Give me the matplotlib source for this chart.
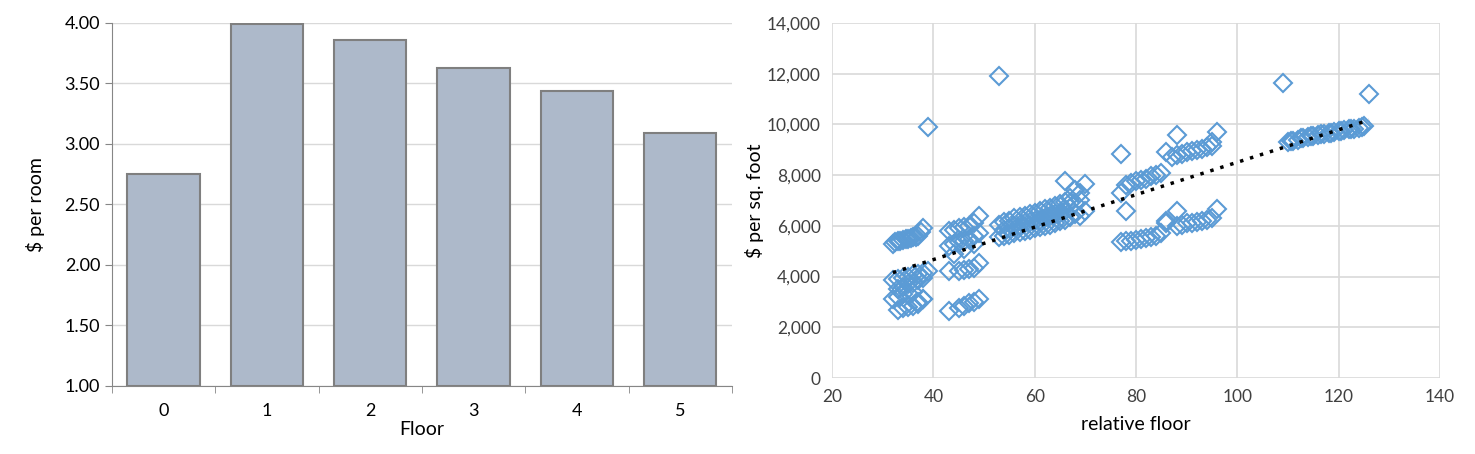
import numpy as np
import matplotlib.pyplot as plt
from matplotlib.ticker import FuncFormatter

plt.rcParams['font.family'] = ['Lato', 'DejaVu Sans']

# left chart: price per room by floor
floors = ['0', '1', '2', '3', '4', '5']
per_room = [2.75, 3.99, 3.86, 3.63, 3.44, 3.09]

# right chart: price per sq. foot vs relative floor
rel_floor = [
    32, 32.5, 33, 33.5, 34, 34.5, 35, 35.5, 36, 36.5, 37, 37.5, 38,
    32, 33, 34, 35, 36, 37, 38, 39,
    33, 34, 35, 36, 37, 38,
    32, 33, 34, 35, 36, 37, 38,
    33, 34, 35, 36, 37, 38,
    39, 53,
    43, 44, 45, 46, 47, 48, 49,
    43, 44, 45, 46, 47, 48, 49,
    44, 46, 48,
    43, 45, 46, 47, 48, 49,
    43, 45, 46, 47, 48, 49,
    53, 54, 55, 56, 57, 58, 59, 60, 61, 62, 63, 64, 65, 66, 67, 68, 69, 70,
    53, 54, 55, 56, 57, 58, 59, 60, 61, 62, 63, 64, 65, 66, 67, 68, 69, 70,
    54, 55, 56, 57, 58, 59, 60, 61, 62, 63, 64, 65, 66, 67, 68, 69,
    66, 67,
    77, 78, 79, 80, 81, 82, 83, 84, 85,
    77, 78, 79, 80, 81, 82, 83, 84, 85, 86,
    77, 78, 86, 87, 88, 88, 86,
    88, 89, 90, 91, 92, 93, 94, 95, 96, 95,
    88, 89, 90, 91, 92, 93, 94, 95, 96,
    110, 111, 112, 113, 114, 115, 116, 117, 118, 119, 120, 121, 122, 123, 124, 125,
    110.5, 112.5, 114.5, 116.5, 118.5, 120.5, 122.5, 124.5,
    109, 126,
]
per_sqft = [
    5300, 5350, 5400, 5420, 5450, 5470, 5500, 5520, 5550, 5570, 5600, 5750, 5900,
    3850, 3900, 3950, 4000, 4050, 4100, 4150, 4200,
    3500, 3600, 3700, 3750, 3850, 3950,
    3100, 3200, 3300, 3350, 3400, 3000, 3100,
    2700, 2750, 2800, 2850, 2900, 3100,
    9900, 11900,
    5800, 5850, 5900, 5950, 6000, 6100, 6400,
    5200, 5300, 5350, 5400, 5500, 5600, 5700,
    4900, 5100, 5300,
    4200, 4200, 4250, 4300, 4350, 4550,
    2650, 2750, 2850, 2950, 3000, 3100,
    6050, 6150, 6200, 6300, 6350, 6400, 6450, 6500, 6600, 6650, 6700, 6800, 6850, 6950, 7100, 7400, 7300, 7650,
    5550, 5600, 5650, 5700, 5750, 5800, 5850, 5900, 5950, 6000, 6050, 6100, 6200, 6250, 6350, 6450, 6400, 6600,
    5850, 5900, 6000, 6050, 6100, 6150, 6200, 6250, 6300, 6400, 6450, 6500, 6600, 6700, 6900, 7000,
    7750, 6900,
    7300, 7600, 7700, 7750, 7800, 7850, 7950, 8000, 8100,
    5350, 5400, 5420, 5450, 5500, 5520, 5550, 5600, 5700, 6100,
    8850, 6600, 8900, 8700, 9600, 6600, 6200,
    8800, 8850, 8900, 8950, 9000, 9050, 9100, 9150, 9700, 9300,
    6000, 6050, 6100, 6120, 6150, 6200, 6220, 6300, 6650,
    9300, 9350, 9400, 9450, 9500, 9550, 9600, 9630, 9660, 9700, 9730, 9760, 9800, 9830, 9870, 9950,
    9360, 9450, 9530, 9610, 9680, 9740, 9810, 9900,
    11650, 11200,
]

fig = plt.figure(figsize=(14.75, 4.54), dpi=100)
grid_col = '#d9d9d9'
txt_col = '#404040'

# ---- bar chart ----
ax1 = fig.add_axes([0.0759, 0.1498, 0.4203, 0.7996])
ax1.bar(range(len(floors)), [v - 1 for v in per_room], bottom=1, width=0.7,
        color='#adb9ca', edgecolor='#7f7f7f', linewidth=1.5, zorder=3)
ax1.set_ylim(1, 4)
ax1.set_xlim(-0.5, 5.5)
ax1.set_yticks(np.arange(1, 4.01, 0.5))
ax1.yaxis.set_major_formatter(FuncFormatter(lambda v, p: f'{v:.2f}'))
ax1.set_xticks(range(len(floors)))
ax1.set_xticklabels(floors)
ax1.set_xticks(np.arange(-0.5, 5.6, 1), minor=True)
ax1.tick_params(axis='x', which='major', length=0, pad=12)
ax1.tick_params(axis='x', which='minor', length=5, color='#868686')
ax1.tick_params(axis='y', length=5, color='#868686')
ax1.tick_params(labelsize=13, labelcolor='black')
ax1.grid(axis='y', color=grid_col, linewidth=1, zorder=0)
for s in ['top', 'right']:
    ax1.spines[s].set_visible(False)
for s in ['left', 'bottom']:
    ax1.spines[s].set_color('#868686')
ax1.set_xlabel('Floor', fontsize=14, labelpad=2)
ax1.set_ylabel('$ per room', fontsize=14, labelpad=14)

# ---- scatter chart ----
ax2 = fig.add_axes([0.5641, 0.1674, 0.4122, 0.782])
ax2.plot(rel_floor, per_sqft, linestyle='none', marker='D', markersize=9,
         markerfacecolor='none', markeredgecolor='#5b9bd5', markeredgewidth=1.5, zorder=3)
coef = np.polyfit(rel_floor, per_sqft, 1)
xs = np.array([min(rel_floor), max(rel_floor)])
ax2.plot(xs, np.polyval(coef, xs), color='black', linestyle=(0, (1, 2)), linewidth=2.5, zorder=4)
ax2.set_xlim(20, 140)
ax2.set_ylim(0, 14000)
ax2.set_xticks(range(20, 141, 20))
ax2.set_yticks(range(0, 14001, 2000))
ax2.yaxis.set_major_formatter(FuncFormatter(lambda v, p: f'{int(v):,}'))
ax2.grid(color=grid_col, linewidth=1.2, zorder=0)
ax2.tick_params(length=0, labelsize=12.5, labelcolor=txt_col, pad=8)
for s in ax2.spines.values():
    s.set_visible(False)
ax2.set_xlabel('relative floor', fontsize=14, labelpad=8)
ax2.set_ylabel('$ per sq. foot', fontsize=14, labelpad=2)

fig.savefig('out.png', dpi=100)
